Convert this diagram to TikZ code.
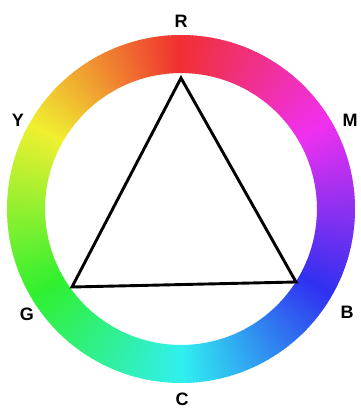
\documentclass[tikz,border=0pt]{standalone}
\usepackage{fontspec}
\setmainfont{Liberation Sans}
\usepackage{tikz}
\usetikzlibrary{positioning,calc}

\begin{document}
\begin{tikzpicture}[x=1pt, y=1pt,
    hue/.style={font=\fontsize{18}{18}\selectfont\bfseries, inner sep=0pt},
    tri/.style={draw=black, line width=2.9pt, line join=miter}
]
\useasboundingbox (0,0) rectangle (360,409);
% colour ring, one wedge per degree
\def\rin{136}
\def\rout{174}
\foreach \a in {0,...,359}{
    \pgfmathsetmacro\h{mod(\a+270,360)}
    \definecolor{wc}{Hsb}{\h,0.80,0.94}
    \fill[wc] (181,200) ++(\a:\rin) arc (\a:\a+1.3:\rin)
        -- ($(181,200)+(\a+1.3:\rout)$) arc (\a+1.3:\a:\rout) -- cycle;
}
% labels
\node[hue] (r) at (181,388) {R};
\node[hue] (y) at (18,289)  {Y};
\node[hue] (m) at (350,289) {M};
\node[hue] (g) at (27,95)   {G};
\node[hue] (b) at (347,97)  {B};
\node[hue] (c) at (182,10)  {C};
% triangle
\coordinate (top)   at (181,331);
\coordinate (left)  at (72,122);
\coordinate (right) at (296,127);
\draw[tri] (top) -- (left) -- (right) -- cycle;
\end{tikzpicture}
\end{document}
